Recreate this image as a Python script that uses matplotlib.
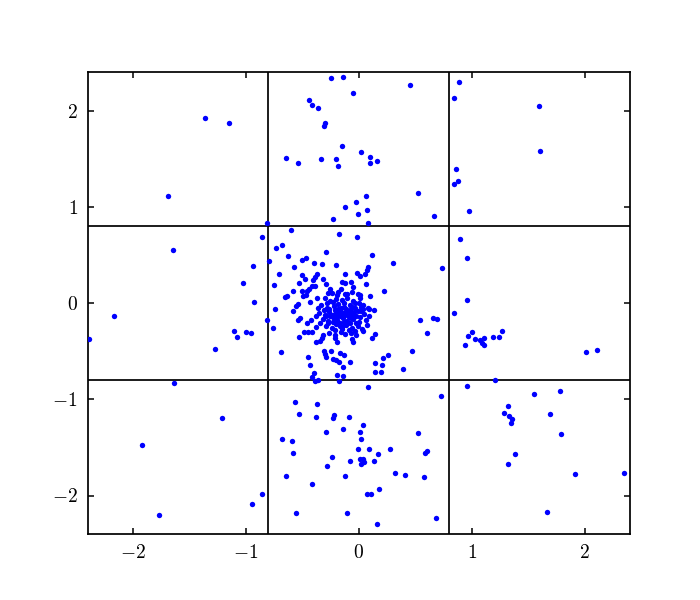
import matplotlib
matplotlib.use("Agg")
import matplotlib.pyplot as plt

plt.rcParams['font.family'] = 'serif'
plt.rcParams['font.serif'] = ['cmr10', 'DejaVu Serif']
plt.rcParams['mathtext.fontset'] = 'cm'
plt.rcParams['axes.formatter.use_mathtext'] = True

# points, outer ones first
x_outer = [-1.358, -1.145, -1.688, -0.809,
           -0.242, -0.136, 0.457, -0.048, -0.440, -0.411, -0.358, -0.296, -0.304, -0.145, 0.023,
           -0.641, -0.535, -0.331, -0.198, -0.181, 0.103, 0.103, 0.165, 0.527, 0.067, -0.021,
           -0.119, 0.076, -0.004, 0.669, -0.225, 0.085,
           0.890, 0.846, 1.598, 1.607, 0.864, 0.881, 0.846, 0.979,
           -0.856, -1.641, -0.796, -0.935, -1.024, -0.924, -2.163, -0.809, -2.387, -1.101,
           -1.074, -0.995, -0.950, -1.272, -1.632,
           0.899, 0.961, 0.961, 0.846, 1.005, 0.970, 1.032, 1.076, 1.112, 1.088, 1.112, 0.943,
           1.191, 1.244, 1.271, 2.014, 2.112, 1.209, 0.961,
           -1.207, -1.915, -0.856, -0.942, -1.767,
           1.554, 1.784, 1.324, 1.288, 1.333, 1.359, 1.350, 1.696, 1.793, 1.386, 1.324, 1.917,
           2.350, 1.669,
           0.085, 0.731, -0.561, -0.366, -0.526, -0.375, -0.216, -0.225, -0.083, 0.041, -0.136,
           -0.287, 0.014, 0.527, -0.676, -0.588, 0.023, -0.004, 0.094, 0.280, 0.602, 0.589,
           -0.579, 0.173, -0.234, 0.014, 0.041, 0.050, 0.023, -0.074, 0.138, -0.278, -0.641,
           -0.119, 0.324, 0.412, 0.581, -0.411, 0.182, 0.076, 0.112, -0.552, -0.101, 0.687, 0.165]
y_outer = [1.927, 1.865, 1.116, 0.834,
           2.333, 2.353, 2.270, 2.187, 2.107, 2.062, 2.031, 1.865, 1.837, 1.626, 1.574,
           1.511, 1.459, 1.491, 1.501, 1.428, 1.515, 1.459, 1.480, 1.148, 1.116, 1.054,
           1.002, 0.971, 0.929, 0.909, 0.877, 0.834,
           2.291, 2.125, 2.042, 1.584, 1.397, 1.272, 1.241, 0.960,
           0.690, 0.555, 0.441, 0.389, 0.212, 0.015, -0.131, -0.173, -0.370, -0.287,
           -0.349, -0.297, -0.308, -0.474, -0.835,
           0.669, 0.472, 0.035, -0.100, -0.305, -0.339, -0.370, -0.380, -0.360, -0.412, -0.432, -0.432,
           -0.349, -0.349, -0.287, -0.505, -0.484, -0.796, -0.859,
           -1.191, -1.472, -1.981, -2.085, -2.200,
           -0.942, -0.911, -1.067, -1.139, -1.170, -1.202, -1.243, -1.150, -1.358, -1.566, -1.669, -1.773,
           -1.763, -2.168,
           -0.869, -0.963, -1.025, -1.046, -1.150, -1.181, -1.160, -1.191, -1.181, -1.264, -1.306,
           -1.337, -1.337, -1.347, -1.410, -1.430, -1.410, -1.514, -1.514, -1.514, -1.534, -1.555,
           -1.555, -1.566, -1.597, -1.617, -1.617, -1.649, -1.669, -1.638, -1.638, -1.690, -1.794,
           -1.794, -1.763, -1.784, -1.805, -1.877, -1.929, -1.981, -1.981, -2.179, -2.179, -2.231, -2.293]

# middle box, around the cluster
x_mid = [-0.596, -0.172, -0.012, -0.676, -0.729, -0.287, 0.120, -0.623, -0.499, -0.464, -0.393,
         -0.322, -0.198, 0.306, 0.740, -0.570, 0.085, 0.076, -0.703, -0.119, -0.012, 0.014, 0.058,
         -0.499, -0.473, -0.366, -0.384, -0.402, -0.313, -0.526, -0.287, -0.145, -0.119, -0.065,
         0.067, -0.747, -0.411, -0.384, -0.437, -0.455, -0.251, -0.154, -0.048, -0.579, -0.499,
         0.227, -0.269, -0.189, -0.101, -0.004, 0.103, -0.650, -0.632, -0.490, -0.464, -0.366,
         -0.428, 0.014, -0.535, -0.552, -0.738, -0.579, 0.094, 0.138, -0.517, -0.535, 0.545, 0.660,
         0.696, -0.756, -0.455, -0.419, -0.375, -0.481, -0.446, -0.411, 0.041, 0.607, 0.147, 0.115,
         -0.526, -0.322, -0.313, -0.207, -0.057, -0.375, -0.340, -0.189, -0.048, -0.685, -0.304,
         -0.296, -0.242, -0.163, -0.127, -0.287, 0.474, -0.446, -0.225, -0.198, -0.172, -0.074,
         0.147, 0.218, 0.262, 0.209, -0.428, -0.136, 0.395, 0.147, 0.200, -0.393, -0.411, -0.358,
         -0.384, -0.189, -0.136, -0.172]
y_mid = [0.763, 0.721, 0.690, 0.607, 0.576, 0.534, 0.503, 0.493, 0.451, 0.465, 0.420,
         0.410, 0.399, 0.420, 0.368, 0.378, 0.378, 0.347, 0.306, 0.306, 0.316, 0.285, 0.306,
         0.295, 0.254, 0.306, 0.274, 0.243, 0.254, 0.212, 0.202, 0.222, 0.212, 0.222,
         0.202, 0.191, 0.181, 0.181, 0.150, 0.129, 0.150, 0.150, 0.170, 0.129, 0.129,
         0.129, 0.108, 0.087, 0.098, 0.098, 0.077, 0.067, 0.077, 0.077, 0.087, 0.056,
         0.015, 0.056, -0.006, -0.027, -0.058, -0.079, -0.058, -0.069, -0.152, -0.173, -0.173, -0.152,
         -0.162, -0.256, -0.204, -0.173, -0.245, -0.297, -0.297, -0.297, -0.287, -0.308, -0.318, -0.360,
         -0.349, -0.360, -0.328, -0.360, -0.370, -0.401, -0.391, -0.401, -0.401, -0.505, -0.495,
         -0.526, -0.495, -0.516, -0.536, -0.557, -0.495, -0.557, -0.578, -0.588, -0.609, -0.609,
         -0.620, -0.568, -0.536, -0.640, -0.640, -0.661, -0.682, -0.713, -0.713, -0.724, -0.765, -0.796,
         -0.807, -0.744, -0.755, -0.807]

# dense core, estimated (blob is solid in the picture)
x_core = [-0.30, -0.25, -0.20, -0.15, -0.10, -0.05, 0.00, 0.04,
          -0.33, -0.28, -0.22, -0.18, -0.13, -0.08, -0.03, 0.02,
          -0.35, -0.30, -0.26, -0.21, -0.16, -0.12, -0.07, -0.02, 0.05,
          -0.32, -0.27, -0.23, -0.19, -0.14, -0.10, -0.05, 0.00, 0.06,
          -0.29, -0.24, -0.20, -0.15, -0.11, -0.06, -0.01, 0.03,
          -0.26, -0.21, -0.16, -0.12, -0.07, -0.02,
          -0.24, -0.18, -0.12, -0.06, 0.01,
          -0.27, -0.17, -0.09, -0.20, -0.14, -0.11, -0.23, -0.08, -0.17, -0.13, -0.19, -0.15, -0.04, -0.25,
          -0.36, -0.38, 0.08, 0.09, -0.34, 0.07,
          -0.28, -0.23, -0.18, -0.13, -0.08, -0.03, 0.02,
          -0.31, -0.26, -0.21, -0.16, -0.11, -0.06, -0.01, 0.04,
          -0.29, -0.24, -0.19, -0.14, -0.09, -0.04, 0.01,
          -0.27, -0.22, -0.17, -0.12, -0.07, -0.02,
          -0.21, -0.15, -0.09, -0.03]
y_core = [0.05, 0.02, 0.04, 0.03, 0.05, 0.02, 0.00, -0.02,
          -0.02, -0.05, -0.03, -0.06, -0.04, -0.07, -0.05, -0.08,
          -0.10, -0.12, -0.09, -0.11, -0.09, -0.12, -0.10, -0.13, -0.11,
          -0.17, -0.19, -0.15, -0.18, -0.16, -0.19, -0.17, -0.20, -0.18,
          -0.24, -0.26, -0.22, -0.25, -0.23, -0.26, -0.24, -0.27,
          -0.31, -0.33, -0.30, -0.32, -0.31, -0.33,
          0.10, 0.11, 0.09, 0.11, 0.08,
          -0.07, -0.13, -0.15, -0.08, -0.10, -0.06, -0.20, -0.21, -0.21, -0.20, -0.14, -0.13, -0.09, -0.14,
          -0.05, -0.14, -0.05, -0.14, -0.21, -0.23,
          0.00, 0.01, -0.01, 0.00, -0.02, 0.00, -0.04,
          -0.07, -0.06, -0.07, -0.05, -0.09, -0.04, -0.08, -0.06,
          -0.14, -0.12, -0.11, -0.13, -0.12, -0.14, -0.15,
          -0.21, -0.18, -0.24, -0.22, -0.16, -0.21,
          -0.28, -0.27, -0.28, -0.29]

xs = x_outer + x_mid + x_core
ys = y_outer + y_mid + y_core

cut = 0.8
lim = 2.4
ticks = [-2, -1, 0, 1, 2]

fig, ax = plt.subplots(figsize=(7, 6), dpi=100)

ax.axvline(-cut, color='k', lw=1.25)
ax.axvline(cut, color='k', lw=1.25)
ax.axhline(-cut, color='k', lw=1.25)
ax.axhline(cut, color='k', lw=1.25)

ax.scatter(xs, ys, s=15, c='b', linewidths=0, zorder=3)

ax.set_xlim(-lim, lim)
ax.set_ylim(-lim, lim)
ax.set_xticks(ticks)
ax.set_yticks(ticks)
ax.tick_params(direction='in', top=True, right=True, length=4.5, width=1.1,
               labelsize=14, pad=7)
for sp in ax.spines.values():
    sp.set_linewidth(1.25)

fig.savefig('out.png')
